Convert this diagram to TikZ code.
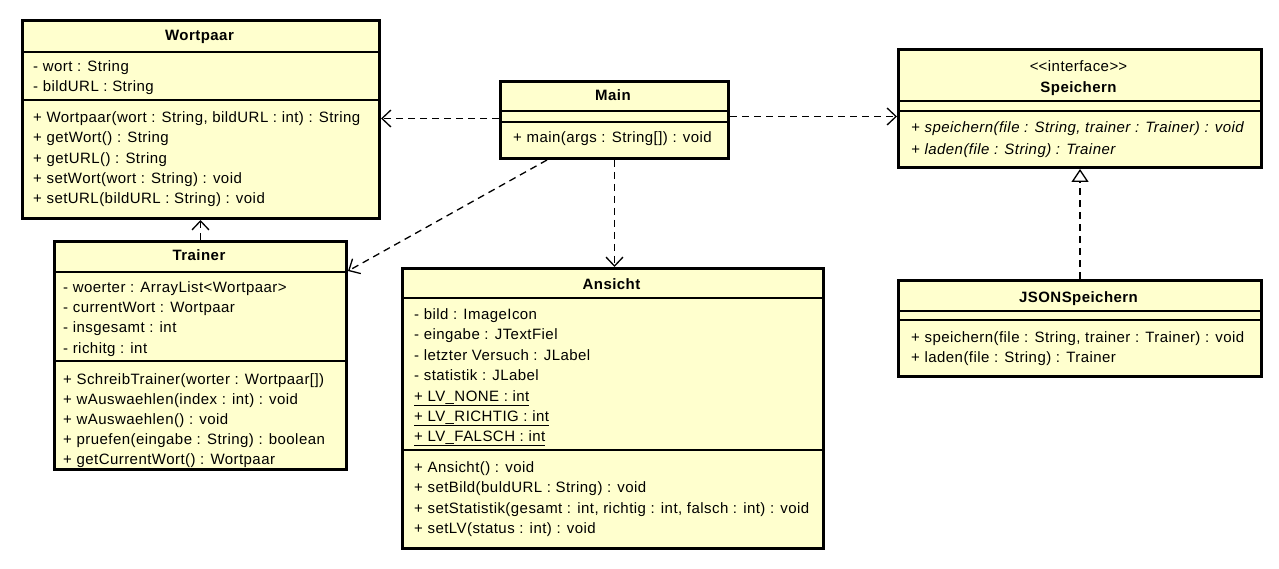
\documentclass[tikz,border=0pt]{standalone}
\usepackage{fontspec}
\setmainfont{Liberation Sans}[LetterSpace=3]
\usetikzlibrary{arrows.meta}
\definecolor{umlfill}{RGB}{255,255,206}
\begin{document}
\begin{tikzpicture}[x=1pt,y=-1pt,
  font=\fontsize{15}{18}\selectfont,
  cls/.style={draw, line width=3pt, fill=umlfill, inner sep=0pt, anchor=north west},
  sepline/.style={line width=1.2pt},
  txt/.style={anchor=base west, inner sep=0pt},
  ttl/.style={anchor=base, inner sep=0pt, font=\fontsize{15}{18}\selectfont\bfseries},
  stereo/.style={anchor=base, inner sep=0pt},
  dep/.style={line width=1.3pt, dash pattern=on 7pt off 5pt, -{Straight Barb[length=9pt,width=17pt,line width=1.3pt]}},
  real/.style={line width=1.3pt, dash pattern=on 7pt off 5pt, -{Triangle[open,length=13pt,width=17pt,line width=1.3pt,fill=white]}}
]
\useasboundingbox (0,0) rectangle (1279,569);
\fill[white] (0,0) rectangle (1279,569);

% ---------- Wortpaar ----------
\node[cls, minimum width=357pt, minimum height=198pt] (wortpaar) at (21,19) {};
\node[ttl] (wp-t) at (199.5,41) {Wortpaar};
\draw[sepline] (wortpaar.west |- 0,52) -- (wortpaar.east |- 0,52);
\draw[sepline] (wortpaar.west |- 0,100) -- (wortpaar.east |- 0,100);
\node[txt] (wp-a1) at (33,72) {- wort : String};
\node[txt] (wp-a2) at (33,92) {- bildURL : String};
\node[txt] (wp-m1) at (33,123) {+ Wortpaar(wort : String, bildURL : int) : String};
\node[txt] (wp-m2) at (33,143) {+ getWort() : String};
\node[txt] (wp-m3) at (33,164) {+ getURL() : String};
\node[txt] (wp-m4) at (33,184) {+ setWort(wort : String) : void};
\node[txt] (wp-m5) at (33,204) {+ setURL(bildURL : String) : void};

% ---------- Trainer ----------
\node[cls, minimum width=292pt, minimum height=228pt] (trainer) at (53,240) {};
\node[ttl] (tr-t) at (199,261) {Trainer};
\draw[sepline] (trainer.west |- 0,272) -- (trainer.east |- 0,272);
\draw[sepline] (trainer.west |- 0,361) -- (trainer.east |- 0,361);
\node[txt] (tr-a1) at (63,292) {- woerter : ArrayList<Wortpaar>};
\node[txt] (tr-a2) at (63,312) {- currentWort : Wortpaar};
\node[txt] (tr-a3) at (63,332) {- insgesamt : int};
\node[txt] (tr-a4) at (63,353) {- richitg : int};
\node[txt] (tr-m1) at (63,384) {+ SchreibTrainer(worter : Wortpaar[])};
\node[txt] (tr-m2) at (63,404) {+ wAuswaehlen(index : int) : void};
\node[txt] (tr-m3) at (63,424) {+ wAuswaehlen() : void};
\node[txt] (tr-m4) at (63,444) {+ pruefen(eingabe : String) : boolean};
\node[txt] (tr-m5) at (63,464) {+ getCurrentWort() : Wortpaar};

% ---------- Main ----------
\node[cls, minimum width=228pt, minimum height=77pt] (main) at (499,80) {};
\node[ttl] (mn-t) at (613,101) {Main};
\draw[sepline] (main.west |- 0,111) -- (main.east |- 0,111);
\draw[sepline] (main.west |- 0,122) -- (main.east |- 0,122);
\node[txt] (mn-m1) at (513,143) {+ main(args : String[]) : void};

% ---------- Ansicht ----------
\node[cls, minimum width=421pt, minimum height=280pt] (ansicht) at (401,267) {};
\node[ttl] (an-t) at (611.5,289) {Ansicht};
\draw[sepline] (ansicht.west |- 0,298) -- (ansicht.east |- 0,298);
\draw[sepline] (ansicht.west |- 0,450) -- (ansicht.east |- 0,450);
\node[txt] (an-a1) at (414,319) {- bild : ImageIcon};
\node[txt] (an-a2) at (414,339) {- eingabe : JTextFiel};
\node[txt] (an-a3) at (414,360) {- letzter Versuch : JLabel};
\node[txt] (an-a4) at (414,380) {- statistik : JLabel};
\node[txt] (an-a5) at (414,401) {\underline{+ LV\_NONE : int}};
\node[txt] (an-a6) at (414,421) {\underline{+ LV\_RICHTIG : int}};
\node[txt] (an-a7) at (414,441) {\underline{+ LV\_FALSCH : int}};
\node[txt] (an-m1) at (414,472) {+ Ansicht() : void};
\node[txt] (an-m2) at (414,492) {+ setBild(buldURL : String) : void};
\node[txt] (an-m3) at (414,513) {+ setStatistik(gesamt : int, richtig : int, falsch : int) : void};
\node[txt] (an-m4) at (414,533) {+ setLV(status : int) : void};

% ---------- Speichern (interface) ----------
\node[cls, minimum width=363pt, minimum height=118pt] (speichern) at (897,48) {};
\node[stereo] (sp-s) at (1078.5,72) {<\kern0pt<interface>\kern0pt>};
\node[ttl] (sp-t) at (1078.5,93) {Speichern};
\draw[sepline] (speichern.west |- 0,101) -- (speichern.east |- 0,101);
\draw[sepline] (speichern.west |- 0,111) -- (speichern.east |- 0,111);
\node[txt] (sp-m1) at (911,133) {\itshape + speichern(file : String, trainer : Trainer) : void};
\node[txt] (sp-m2) at (911,155) {\itshape + laden(file : String) : Trainer};

% ---------- JSONSpeichern ----------
\node[cls, minimum width=363pt, minimum height=96pt] (json) at (897,279) {};
\node[ttl] (js-t) at (1078.5,302) {JSONSpeichern};
\draw[sepline] (json.west |- 0,311) -- (json.east |- 0,311);
\draw[sepline] (json.west |- 0,320) -- (json.east |- 0,320);
\node[txt] (js-m1) at (911,342) {+ speichern(file : String, trainer : Trainer) : void};
\node[txt] (js-m2) at (911,362) {+ laden(file : String) : Trainer};

% ---------- relations ----------
\draw[dep] ([yshift=1.5pt]main.west) -- ([yshift=1.5pt]main.west -| wortpaar.east);
\draw[dep] ([yshift=3.5pt]main.east) -- ([yshift=3.5pt]main.east -| speichern.west);
\draw[dep] ([xshift=48pt]main.south west) -- ([yshift=-31pt]trainer.north east);
\draw[dep] (main.south) -- (main.south |- ansicht.north);
\draw[dep] (trainer.north) -- (trainer.north |- wortpaar.south);
\draw[real] (json.north) -- (json.north |- speichern.south);
\end{tikzpicture}
\end{document}
